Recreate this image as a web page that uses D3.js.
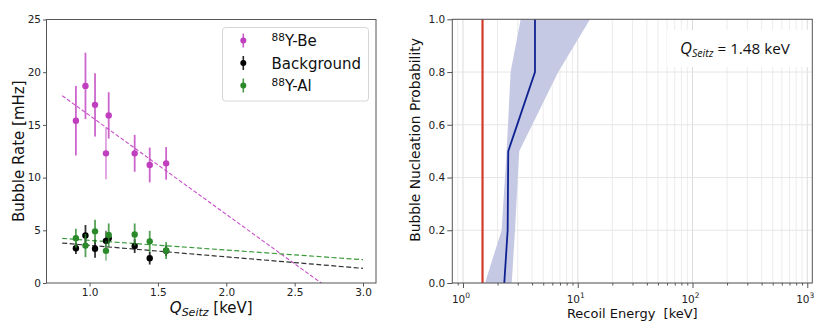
<!DOCTYPE html>
<html><head><meta charset="utf-8">
<script src="https://cdn.jsdelivr.net/npm/d3@7"></script>
<style>body{margin:0;background:#fff;} svg{display:block;} text{font-family:"DejaVu Sans",sans-serif;}</style>
</head><body><svg id="c" width="839" height="335"></svg>
<script>
// ---------- Left panel data ----------
const qSeitz   = [0.90, 0.97, 1.04, 1.12, 1.14, 1.33, 1.44, 1.56];
const yBeRate  = [15.4, 18.7, 16.9, 12.3, 15.9, 12.3, 11.2, 11.35];
const yBeErr   = [3.3, 3.15, 3.0, 2.45, 2.2, 1.75, 1.65, 1.55];
const bgRate   = [3.3, 4.5, 3.25, 4.0, 4.25, 3.5, 2.35, 3.05];
const bgErr    = [0.55, 1.0, 0.85, 0.95, 0.5, 0.65, 0.6, 0.5];
const yAlRate  = [4.25, 3.55, 4.9, 3.05, 4.55, 4.6, 3.95, 3.08];
const yAlErr   = [0.9, 1.1, 1.1, 0.95, 1.1, 1.05, 1.0, 0.8];
const fitX     = [0.8, 3.0];
const yBeFit   = [17.77, -2.87];
const bgFit    = [3.79, 1.39];
const yAlFit   = [4.23, 2.21];
const rateTicks = [0, 5, 10, 15, 20, 25];
const qTicks    = [1.0, 1.5, 2.0, 2.5, 3.0];
// ---------- Right panel data ----------
const probLevels = [0, 0.2, 0.5, 0.8, 1.0];
const energyBest = [2.29, 2.45, 2.48, 4.24, 4.24];
const energyLow  = [1.555, 2.17, 2.40, 2.60, 3.18];
const energyHigh = [2.66, 2.84, 3.09, 6.76, 12.8];
const qSeitzValue = 1.48;
const probTicks   = [0, 0.2, 0.4, 0.6, 0.8, 1.0];
const energyMajor = [1, 10, 100, 1000];
const energyExp   = ["0", "1", "2", "3"];

const svg = d3.select("#c");
svg.append("rect").attr("width", 839).attr("height", 335).attr("fill", "#fff");

const cBe = "#bf3fbf", cBg = "#000000", cAl = "#2a8a2a";
const spine = "#555", tickCol = "#222";

// ================= LEFT PANEL =================
const L = {x0: 46.5, x1: 376, y0: 19.5, y1: 283};
const xL = d3.scaleLinear().domain([0.685, 3.095]).range([L.x0, L.x1]);
const yL = d3.scaleLinear().domain([0, 25]).range([L.y1, L.y0]);
const gL = svg.append("g");

svg.append("clipPath").attr("id", "clipL").append("rect")
  .attr("x", L.x0).attr("y", L.y0).attr("width", L.x1 - L.x0).attr("height", L.y1 - L.y0);

// fit lines
const fits = [[yBeFit, "#c850c8", 1.1, "4,2"], [bgFit, "#333", 1.2, "5,2.5"], [yAlFit, "#3c9a3c", 1.2, "5,2.5"]];
const lineL = d3.line().x(d => xL(d[0])).y(d => yL(d[1]));
fits.forEach(([vals, col, w, dash]) => {
  gL.append("path").attr("clip-path", "url(#clipL)")
    .attr("d", lineL(fitX.map((x, i) => [x, vals[i]])))
    .attr("fill", "none").attr("stroke", col).attr("stroke-width", w).attr("stroke-dasharray", dash);
});

// error bar series
function drawSeries(rate, err, col) {
  const g = gL.append("g");
  qSeitz.forEach((q, i) => {
    if (rate[i] == null) return;
    g.append("line").attr("x1", xL(q)).attr("x2", xL(q))
      .attr("y1", yL(rate[i] - err[i])).attr("y2", yL(rate[i] + err[i]))
      .attr("stroke", col).attr("stroke-width", 1.8)
      .attr("stroke-opacity", i === 3 ? 0.5 : 0.8);
  });
  g.selectAll("circle").data(qSeitz).join("circle")
    .attr("cx", d => xL(d)).attr("cy", (d, i) => yL(rate[i])).attr("r", 3.2).attr("fill", col);
}
drawSeries(yBeRate, yBeErr, cBe);
drawSeries(bgRate, bgErr, cBg);
drawSeries(yAlRate, yAlErr, cAl);

// axes
const axLY = d3.axisLeft(yL).tickValues(rateTicks).tickSize(3.5).tickPadding(2).tickFormat(d3.format("d"));
const axLX = d3.axisBottom(xL).tickValues(qTicks).tickSize(3.5).tickPadding(2.5).tickFormat(d3.format(".1f"));
function styleAxis(g) {
  g.select(".domain").remove();
  g.selectAll(".tick line").attr("stroke", spine);
  g.selectAll(".tick text").attr("fill", tickCol).style("font-size", "10.5px").style("font-family", "DejaVu Sans");
}
gL.append("g").attr("transform", `translate(${L.x0},0)`).call(axLY).call(styleAxis);
gL.append("g").attr("transform", `translate(0,${L.y1})`).call(axLX).call(styleAxis);
gL.append("rect").attr("x", L.x0).attr("y", L.y0).attr("width", L.x1 - L.x0).attr("height", L.y1 - L.y0)
  .attr("fill", "none").attr("stroke", spine).attr("stroke-width", 1);

// labels
gL.append("text").attr("transform", `translate(18.5,${(L.y0 + L.y1) / 2}) rotate(-90)`)
  .attr("text-anchor", "middle").attr("dominant-baseline", "central")
  .style("font-size", "15px").attr("fill", "#111").text("Bubble Rate [mHz]");
const xlab = gL.append("text").attr("x", (L.x0 + L.x1) / 2).attr("y", 312.5)
  .attr("text-anchor", "middle").style("font-size", "15px").attr("fill", "#111");
xlab.append("tspan").style("font-style", "italic").text("Q");
xlab.append("tspan").style("font-style", "italic").style("font-size", "11px").attr("dy", 3).text("Seitz");
xlab.append("tspan").attr("dy", -3).text(" [keV]");

// legend
const lg = gL.append("g");
lg.append("rect").attr("x", 222.5).attr("y", 27.5).attr("width", 146).attr("height", 73.5).attr("rx", 3)
  .attr("fill", "#fff").attr("fill-opacity", 0.85).attr("stroke", "#d6d6d6").attr("stroke-width", 1);
const legItems = [["88", "Y-Be", cBe], ["", "Background", cBg], ["88", "Y-Al", cAl]];
const legY = [40.5, 63, 85.5];
legItems.forEach(([sup, label, col], i) => {
  const y = legY[i];
  lg.append("line").attr("x1", 243.3).attr("x2", 243.3).attr("y1", y - 7).attr("y2", y + 7)
    .attr("stroke", col).attr("stroke-width", 1.6).attr("stroke-opacity", 0.85);
  lg.append("circle").attr("cx", 243.3).attr("cy", y).attr("r", 3).attr("fill", col);
  const t = lg.append("text").attr("x", 271.5).attr("y", y + 5.5).style("font-size", "15px").attr("fill", "#111");
  if (sup) {
    t.append("tspan").style("font-size", "10.5px").attr("dy", -5.5).text(sup);
    t.append("tspan").attr("dy", 5.5).text(label);
  } else t.text(label);
});

// ================= RIGHT PANEL =================
const R = {x0: 452.3, x1: 812.3, y0: 19.3, y1: 283};
const xR = d3.scaleLog().domain([0.807, 1106]).range([R.x0, R.x1]);
const yR = d3.scaleLinear().domain([0, 1]).range([R.y1, R.y0]);
const gR = svg.append("g");

// grid
const minorVals = [];
for (let e = -1; e <= 3; e++) for (let m = 1; m <= 9; m++) {
  const v = m * Math.pow(10, e);
  if (v >= 0.807 && v <= 1106) minorVals.push(v);
}
gR.selectAll("line.vg").data(minorVals).join("line").attr("class", "vg")
  .attr("x1", d => xR(d)).attr("x2", d => xR(d)).attr("y1", R.y0).attr("y2", R.y1)
  .attr("stroke", d => energyMajor.includes(d) ? "#dcdcdc" : "#ececec").attr("stroke-width", 1);
gR.selectAll("line.hg").data(probTicks).join("line").attr("class", "hg")
  .attr("x1", R.x0).attr("x2", R.x1).attr("y1", d => yR(d)).attr("y2", d => yR(d))
  .attr("stroke", "#e6e6e6").attr("stroke-width", 1);

// band
const area = d3.area().x0(d => xR(d[0])).x1(d => xR(d[1])).y(d => yR(d[2]));
gR.append("path").attr("d", area(probLevels.map((p, i) => [energyLow[i], energyHigh[i], p])))
  .attr("fill", "#c6c9e4").attr("stroke", "none");

// Q_Seitz line
gR.append("line").attr("x1", xR(qSeitzValue)).attr("x2", xR(qSeitzValue)).attr("y1", R.y0).attr("y2", R.y1)
  .attr("stroke", "#d43a2c").attr("stroke-width", 2.2);

// best line
gR.append("path").attr("d", d3.line().x(d => xR(d[0])).y(d => yR(d[1]))(probLevels.map((p, i) => [energyBest[i], p])))
  .attr("fill", "none").attr("stroke", "#0f2291").attr("stroke-width", 1.8);

// annotation
gR.append("rect").attr("x", 667).attr("y", 30).attr("width", 143).attr("height", 37).attr("fill", "#fff");
function drawAnnot(s) {
  const an = gR.append("text").attr("x", 680).attr("y", 53.5)
    .style("font-family", "'Open Sans', 'DejaVu Sans', sans-serif").style("font-size", s + "px").attr("fill", "#111");
  an.append("tspan").style("font-style", "italic").style("font-size", (s * 1.08) + "px").text("Q");
  an.append("tspan").style("font-style", "italic").style("font-size", (s * 0.7) + "px").attr("dy", s * 0.22).text("Seitz");
  an.append("tspan").attr("dy", -s * 0.22).text(" = 1.48 keV");
  return an;
}
let an = drawAnnot(15);
const w = an.node().getComputedTextLength();
an.remove();
drawAnnot(15 * 110 / w);

// axes
const axRY = d3.axisLeft(yR).tickValues(probTicks).tickSize(5).tickPadding(2).tickFormat(d3.format(".1f"));
gR.append("g").attr("transform", `translate(${R.x0},0)`).call(axRY).call(styleAxis);
const axRX = d3.axisBottom(xR).tickValues(minorVals).tickSize(2.5).tickFormat("");
const gRX = gR.append("g").attr("transform", `translate(0,${R.y1})`).call(axRX);
gRX.select(".domain").remove();
gRX.selectAll(".tick line").attr("stroke", spine).attr("y2", d => energyMajor.includes(d) ? 5 : 2.5);
energyMajor.forEach((v, i) => {
  const t = gR.append("text").attr("x", xR(v) - 2).attr("y", 302.5).attr("text-anchor", "middle")
    .style("font-size", "10.5px").attr("fill", tickCol);
  t.append("tspan").text("10");
  t.append("tspan").style("font-size", "7.5px").attr("dy", -4.5).text(energyExp[i]);
});
gR.append("rect").attr("x", R.x0).attr("y", R.y0).attr("width", R.x1 - R.x0).attr("height", R.y1 - R.y0)
  .attr("fill", "none").attr("stroke", spine).attr("stroke-width", 1);

gR.append("text").attr("transform", `translate(415,140) rotate(-90)`)
  .attr("text-anchor", "middle").attr("dominant-baseline", "central")
  .style("font-size", "13.8px").attr("fill", "#111").text("Bubble Nucleation Probability");
gR.append("text").attr("x", (R.x0 + R.x1) / 2).attr("y", 318).attr("text-anchor", "middle")
  .style("font-size", "13px").attr("fill", "#111").attr("xml:space", "preserve").text("Recoil Energy  [keV]");
</script></body></html>
